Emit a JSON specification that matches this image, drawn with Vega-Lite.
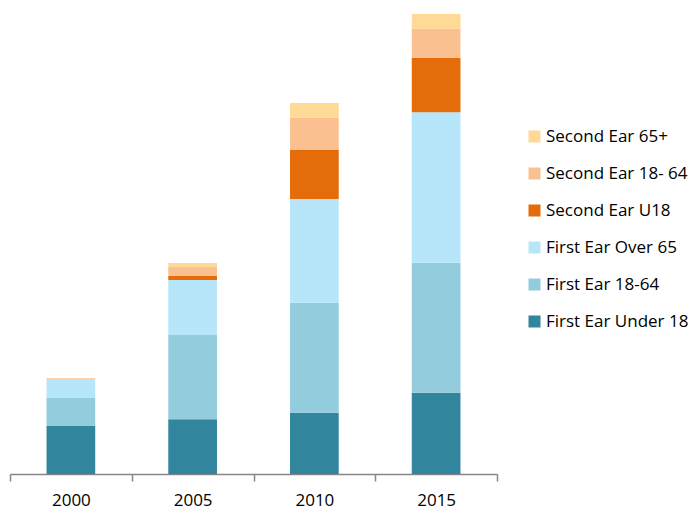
{
  "$schema": "https://vega.github.io/schema/vega-lite/v6.json",
  "autosize": "none",
  "width": 487,
  "height": 474,
  "padding": {"left": 10, "top": 0, "right": 198, "bottom": 36},
  "background": "white",
  "config": {
    "view": {"stroke": null},
    "font": "Open Sans"
  },
  "data": {
    "values": [
      {"year": "2000", "group": "First Ear Under 18", "layer": 1, "value": 48},
      {"year": "2000", "group": "First Ear 18-64", "layer": 2, "value": 28},
      {"year": "2000", "group": "First Ear Over 65", "layer": 3, "value": 19},
      {"year": "2000", "group": "Second Ear U18", "layer": 4, "value": 0.3},
      {"year": "2000", "group": "Second Ear 18- 64", "layer": 5, "value": 0.4},
      {"year": "2000", "group": "Second Ear 65+", "layer": 6, "value": 0.3},
      {"year": "2005", "group": "First Ear Under 18", "layer": 1, "value": 54.7},
      {"year": "2005", "group": "First Ear 18-64", "layer": 2, "value": 84.3},
      {"year": "2005", "group": "First Ear Over 65", "layer": 3, "value": 55},
      {"year": "2005", "group": "Second Ear U18", "layer": 4, "value": 4},
      {"year": "2005", "group": "Second Ear 18- 64", "layer": 5, "value": 9},
      {"year": "2005", "group": "Second Ear 65+", "layer": 6, "value": 4},
      {"year": "2010", "group": "First Ear Under 18", "layer": 1, "value": 61.3},
      {"year": "2010", "group": "First Ear 18-64", "layer": 2, "value": 110},
      {"year": "2010", "group": "First Ear Over 65", "layer": 3, "value": 103.7},
      {"year": "2010", "group": "Second Ear U18", "layer": 4, "value": 49},
      {"year": "2010", "group": "Second Ear 18- 64", "layer": 5, "value": 32.3},
      {"year": "2010", "group": "Second Ear 65+", "layer": 6, "value": 14.7},
      {"year": "2015", "group": "First Ear Under 18", "layer": 1, "value": 81.3},
      {"year": "2015", "group": "First Ear 18-64", "layer": 2, "value": 130},
      {"year": "2015", "group": "First Ear Over 65", "layer": 3, "value": 150.4},
      {"year": "2015", "group": "Second Ear U18", "layer": 4, "value": 54.6},
      {"year": "2015", "group": "Second Ear 18- 64", "layer": 5, "value": 29},
      {"year": "2015", "group": "Second Ear 65+", "layer": 6, "value": 14.7}
    ]
  },
  "mark": {"type": "bar", "width": {"band": 0.4}},
  "encoding": {
    "x": {
      "field": "year",
      "type": "nominal",
      "scale": {"paddingInner": 0, "paddingOuter": 0},
      "axis": {
        "title": null,
        "labelAngle": 0,
        "labelFontSize": 17,
        "labelColor": "#000000",
        "labelPadding": 11,
        "domainColor": "#868686",
        "domainWidth": 1.5,
        "tickColor": "#868686",
        "tickWidth": 1.5,
        "tickSize": 7,
        "tickBand": "extent"
      }
    },
    "y": {
      "field": "value",
      "type": "quantitative",
      "stack": "zero",
      "scale": {"domain": [0, 474], "nice": false},
      "axis": null
    },
    "color": {
      "field": "group",
      "type": "nominal",
      "scale": {
        "domain": ["First Ear Under 18", "First Ear 18-64", "First Ear Over 65", "Second Ear U18", "Second Ear 18- 64", "Second Ear 65+"],
        "range": ["#31859C", "#93CDDD", "#B7E6FB", "#E46C0A", "#FAC090", "#FFD996"]
      },
      "legend": {
        "title": null,
        "orient": "none",
        "legendX": 516,
        "legendY": 128,
        "values": ["Second Ear 65+", "Second Ear 18- 64", "Second Ear U18", "First Ear Over 65", "First Ear 18-64", "First Ear Under 18"],
        "symbolType": "square",
        "symbolSize": 144,
        "symbolStrokeWidth": 0,
        "labelFontSize": 17,
        "labelColor": "#000000",
        "labelOffset": 3,
        "rowPadding": 19
      }
    },
    "order": {"field": "layer", "type": "quantitative", "sort": "ascending"}
  }
}
